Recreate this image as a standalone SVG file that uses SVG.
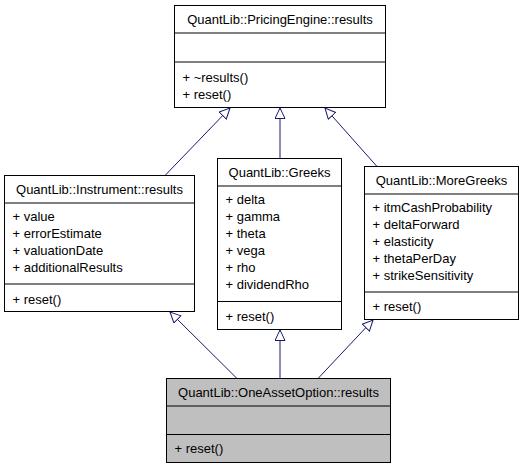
<svg xmlns="http://www.w3.org/2000/svg" width="523" height="469" viewBox="0 0 523 469">
<style>
  .box { fill: #ffffff; stroke: #000000; stroke-width: 1; }
  .cur { fill: #bfbfbf; stroke: #000000; stroke-width: 1; }
  .sep { stroke: #000000; stroke-width: 1; }
  text { font-family: "Liberation Sans", Arial, Helvetica, sans-serif; font-size: 13px; fill: #000000; }
  .t { text-anchor: middle; }
  .edge { stroke: #191970; stroke-width: 1; fill: none; marker-end: url(#hollow); }
</style>
<defs>
  <marker id="hollow" viewBox="0 0 12 12" refX="11" refY="5.5" markerWidth="12" markerHeight="12" markerUnits="userSpaceOnUse" orient="auto">
    <path d="M0.5,0.5 L11,5.5 L0.5,10.5 Z" fill="#ffffff" stroke="#191970" stroke-width="1"/>
  </marker>
</defs>
<rect width="523" height="469" fill="#ffffff"/>

<g id="edges">
  <line class="edge" x1="165" y1="175.5" x2="230" y2="108"/>
  <line class="edge" x1="280" y1="158.5" x2="280" y2="108"/>
  <line class="edge" x1="377" y1="166.5" x2="325" y2="108"/>
  <line class="edge" x1="237" y1="378.5" x2="170" y2="312"/>
  <line class="edge" x1="280" y1="378.5" x2="280" y2="330"/>
  <line class="edge" x1="318" y1="378.5" x2="373" y2="320"/>
</g>

<g id="PricingEngineResults">
  <rect class="box" x="174.5" y="5.5" width="211" height="102"/>
  <line class="sep" x1="174.5" y1="33" x2="385.5" y2="33"/>
  <line class="sep" x1="174.5" y1="62" x2="385.5" y2="62"/>
  <text class="t" x="280" y="24">QuantLib::PricingEngine::results</text>
  <text x="182.5" y="82">+ ~results()</text>
  <text x="182.5" y="99">+ reset()</text>
</g>

<g id="InstrumentResults">
  <rect class="box" x="4.5" y="175.5" width="190" height="136"/>
  <line class="sep" x1="4.5" y1="203" x2="194.5" y2="203"/>
  <line class="sep" x1="4.5" y1="284" x2="194.5" y2="284"/>
  <text class="t" x="99.5" y="193.5">QuantLib::Instrument::results</text>
  <text x="12.5" y="221">+ value</text>
  <text x="12.5" y="238">+ errorEstimate</text>
  <text x="12.5" y="255">+ valuationDate</text>
  <text x="12.5" y="272">+ additionalResults</text>
  <text x="12.5" y="304">+ reset()</text>
</g>

<g id="Greeks">
  <rect class="box" x="217.5" y="158.5" width="124" height="171"/>
  <line class="sep" x1="217.5" y1="186" x2="341.5" y2="186"/>
  <line class="sep" x1="217.5" y1="301.5" x2="341.5" y2="301.5"/>
  <text class="t" x="279.5" y="176.5">QuantLib::Greeks</text>
  <text x="225.5" y="204">+ delta</text>
  <text x="225.5" y="221">+ gamma</text>
  <text x="225.5" y="238">+ theta</text>
  <text x="225.5" y="255">+ vega</text>
  <text x="225.5" y="272">+ rho</text>
  <text x="225.5" y="289">+ dividendRho</text>
  <text x="225.5" y="321">+ reset()</text>
</g>

<g id="MoreGreeks">
  <rect class="box" x="364.5" y="166.5" width="154" height="153"/>
  <line class="sep" x1="364.5" y1="194" x2="518.5" y2="194"/>
  <line class="sep" x1="364.5" y1="292" x2="518.5" y2="292"/>
  <text class="t" x="441.5" y="184.5">QuantLib::MoreGreeks</text>
  <text x="372.5" y="212">+ itmCashProbability</text>
  <text x="372.5" y="229">+ deltaForward</text>
  <text x="372.5" y="246">+ elasticity</text>
  <text x="372.5" y="263">+ thetaPerDay</text>
  <text x="372.5" y="280">+ strikeSensitivity</text>
  <text x="372.5" y="311">+ reset()</text>
</g>

<g id="OneAssetOptionResults">
  <rect class="cur" x="166.5" y="378.5" width="224" height="84"/>
  <line class="sep" x1="166.5" y1="406" x2="390.5" y2="406"/>
  <line class="sep" x1="166.5" y1="434.5" x2="390.5" y2="434.5"/>
  <text class="t" x="278.5" y="396.5">QuantLib::OneAssetOption::results</text>
  <text x="174.5" y="453">+ reset()</text>
</g>
</svg>
